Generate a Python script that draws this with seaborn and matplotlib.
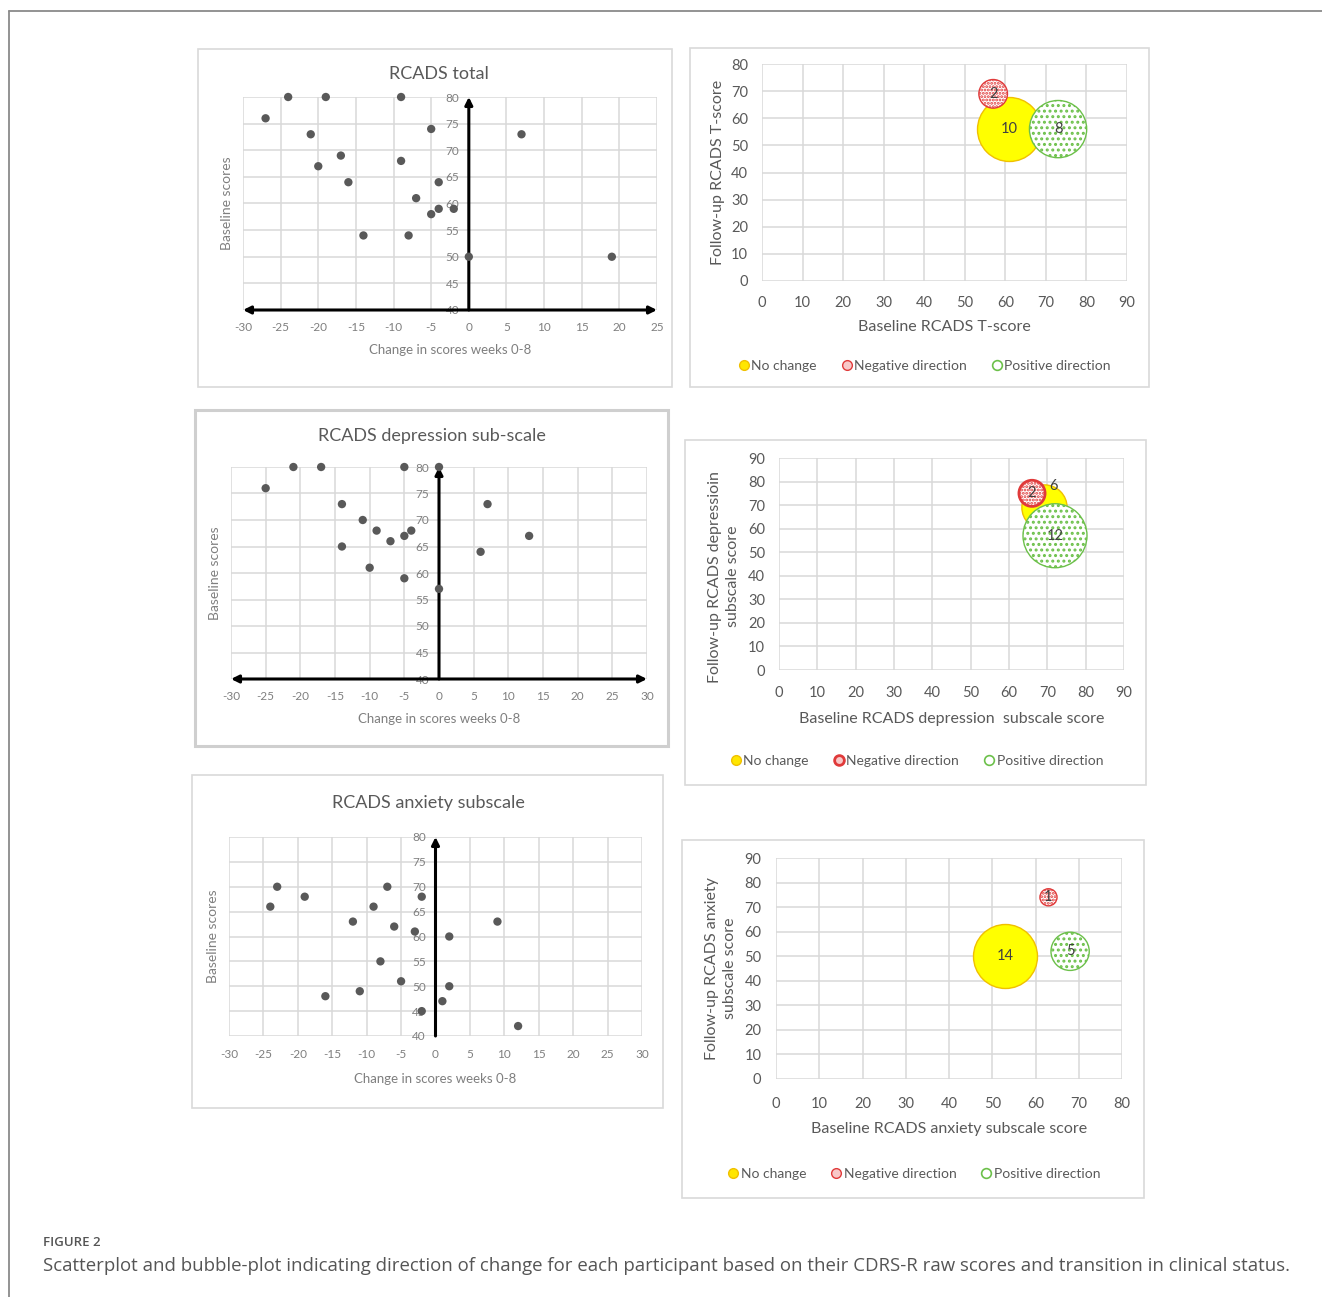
import numpy as np
import pandas as pd
import matplotlib.pyplot as plt
import seaborn as sns
from matplotlib.lines import Line2D
from matplotlib.patches import Rectangle

# change in scores (weeks 0-8) vs baseline, one dot per participant
total_change = [-27, -24, -19, -9, -21, -5, 7, -17, -20, -9, -16, -4, -7, -4, -2, -5, -14, -8, 0, 19]
total_baseline = [76, 80, 80, 80, 73, 74, 73, 69, 67, 68, 64, 64, 61, 59, 59, 58, 54, 54, 50, 50]

dep_change = [-25, -21, -17, -5, 0, -14, 7, -11, -9, -4, -5, -7, 13, -14, 6, -10, -5, 0]
dep_baseline = [76, 80, 80, 80, 80, 73, 73, 70, 68, 68, 67, 66, 67, 65, 64, 61, 59, 57]

anx_change = [-23, -24, -19, -7, -2, -9, -12, 9, -6, -3, 2, -8, -5, 2, -11, -16, 1, -2, 12]
anx_baseline = [70, 66, 68, 70, 68, 66, 63, 63, 62, 61, 60, 55, 51, 50, 49, 48, 47, 45, 42]

# bubble plots: baseline vs follow-up, bubble = number of participants
bubble_groups = ['No change', 'Negative direction', 'Positive direction']
total_bl = [61, 57, 73]
total_fu = [56, 69, 56]
total_n = [10, 2, 8]
dep_bl = [69, 66, 72]
dep_fu = [69, 75, 57]
dep_n = [6, 2, 12]
anx_bl = [53, 63, 68]
anx_fu = [50, 74, 52]
anx_n = [14, 1, 5]

sns.set_style('white')
plt.rcParams['font.family'] = ['Lato', 'DejaVu Sans']
plt.rcParams['axes.unicode_minus'] = False
plt.rcParams['hatch.linewidth'] = 1.4

W, H = 1322, 1297
GRID = '#D9D9D9'
TXT = '#595959'
TICK = '#7F7F7F'

fig = plt.figure(figsize=(W / 100, H / 100), dpi=100)


def px_axes(x0, y0, x1, y1):
    return fig.add_axes([x0 / W, 1 - y1 / H, (x1 - x0) / W, (y1 - y0) / H])


def box(x0, y0, x1, y1, lw=1.2, color=GRID):
    fig.add_artist(Rectangle((x0 / W, 1 - y1 / H), (x1 - x0) / W, (y1 - y0) / H,
                             transform=fig.transFigure, fill=False, ec=color, lw=lw))


def scatter_panel(ax, change, base, title, title_xy, xmax, horiz_arrow, xlab_y):
    df = pd.DataFrame({'change': change, 'baseline': base})
    sns.scatterplot(data=df, x='change', y='baseline', ax=ax, color='#595959', s=36,
                    edgecolor='none', clip_on=False, zorder=5)
    ax.set_xlim(-30, xmax)
    ax.set_ylim(40, 80)
    ax.set_xticks(range(-30, xmax + 1, 5))
    ax.set_yticks(range(40, 81, 5))
    ax.grid(True, color=GRID, lw=1.1)
    ax.set_axisbelow(True)
    for s in ax.spines.values():
        s.set_visible(False)
    ax.spines['left'].set_position(('data', 0))
    ax.tick_params(length=0, labelsize=8.5, labelcolor=TICK)
    ax.tick_params(axis='y', pad=7)
    ax.tick_params(axis='x', pad=9)
    ax.text(title_xy[0], title_xy[1], title, transform=ax.transAxes, ha='center', va='center',
            fontsize=13, color=TXT)
    ax.set_xlabel('Change in scores weeks 0-8', fontsize=9.5, color=TICK)
    ax.set_ylabel('Baseline scores', fontsize=10, color=TICK)
    ax.yaxis.set_label_coords(-0.024, 0.5)
    ax.xaxis.set_label_coords(0.5, xlab_y)
    ax.xaxis.label.set_va('center')
    ax.annotate('', xy=(0, 80), xytext=(0, 40),
                arrowprops=dict(arrowstyle='-|>', color='black', lw=2.2, mutation_scale=11,
                                shrinkA=0, shrinkB=0), annotation_clip=False, zorder=4)
    if horiz_arrow:
        ax.annotate('', xy=(xmax, 40), xytext=(-30, 40),
                    arrowprops=dict(arrowstyle='<|-|>', color='black', lw=2.2, mutation_scale=11,
                                    shrinkA=0, shrinkB=0), annotation_clip=False, zorder=4)


styles = {
    'No change': dict(fc='#FFFF00', ec='#F0C000', hatch=None),
    'Negative direction': dict(fc='white', ec='#E03A3A', hatch='.....'),
    'Positive direction': dict(fc='white', ec='#6CC04A', hatch='...'),
}


def bubble_panel(ax, bl, fu, n, xmax, ymax, ylab, xlab, ylab_xy, xlab_y, leg_xy,
                 red_lw=1.0, label_offsets=None, pads=(10, 11)):
    label_offsets = label_offsets or {}
    smax = 2123
    for i, grp in enumerate(bubble_groups):
        st = styles[grp]
        lw = red_lw if grp == 'Negative direction' else 1.0
        sns.scatterplot(x=[bl[i]], y=[fu[i]], ax=ax, s=n[i] / max(n) * smax,
                        color=st['fc'], edgecolor=st['ec'], linewidth=lw, hatch=st['hatch'],
                        zorder=3 + (2 - i if i else 0), clip_on=False, legend=False)
        dx, dy = label_offsets.get(grp, (0, 0))
        ax.text(bl[i] + dx, fu[i] + dy, str(n[i]), ha='center', va='center',
                fontsize=10.5, color='#404040', zorder=10)
    ax.set_xlim(0, xmax)
    ax.set_ylim(0, ymax)
    ax.set_xticks(range(0, xmax + 1, 10))
    ax.set_yticks(range(0, ymax + 1, 10))
    ax.grid(True, color=GRID, lw=1.1)
    ax.set_axisbelow(True)
    for s in ax.spines.values():
        s.set_visible(False)
    ax.tick_params(length=0, labelsize=10.5, labelcolor=TXT)
    ax.tick_params(axis='y', pad=pads[0])
    ax.tick_params(axis='x', pad=pads[1])
    ax.set_xlabel(xlab, fontsize=11.5, color=TXT)
    ax.set_ylabel(ylab, fontsize=11.5, color=TXT, linespacing=1.35)
    ax.xaxis.set_label_coords(0.5, xlab_y)
    ax.xaxis.label.set_va('center')
    ax.yaxis.set_label_coords(*ylab_xy)
    ax.yaxis.label.set_va('center')
    handles = [
        Line2D([], [], ls='', marker='o', ms=7, mfc='#FFE600', mec='#F0C000'),
        Line2D([], [], ls='', marker='o', ms=7, mfc='#F8C8C8', mec='#E03A3A', mew=red_lw),
        Line2D([], [], ls='', marker='o', ms=7, mfc='white', mec='#6CC04A', mew=1.2),
    ]
    ax.legend(handles, bubble_groups, loc='center', bbox_to_anchor=leg_xy, ncol=3,
              frameon=False, fontsize=10, labelcolor=TXT, handlelength=0.7,
              handletextpad=0.2, columnspacing=1.8)


# panel frames
box(198, 49, 672, 387)
box(690, 48, 1149, 387)
box(195, 410, 668, 746, lw=2.2, color='#CFCFCF')
box(685, 440, 1146, 785)
box(192, 775, 663, 1108)
box(682, 840, 1144, 1198)

ax1 = px_axes(243, 97, 657, 310)
scatter_panel(ax1, total_change, total_baseline, 'RCADS total', (0.473, 1.108), 25, True, -0.188)

ax3 = px_axes(231, 467, 647, 679)
scatter_panel(ax3, dep_change, dep_baseline, 'RCADS depression sub-scale', (0.483, 1.146), 30, True, -0.189)

ax5 = px_axes(229, 837, 642, 1036)
scatter_panel(ax5, anx_change, anx_baseline, 'RCADS anxiety subscale', (0.482, 1.171), 30, False, -0.216)

ax2 = px_axes(762, 64, 1127, 281)
bubble_panel(ax2, total_bl, total_fu, total_n, 90, 80,
             'Follow-up RCADS T-score', 'Baseline RCADS T-score',
             (-0.12, 0.5), -0.21, (0.446, -0.39), pads=(10, 11))

ax4 = px_axes(779, 458, 1124, 670)
bubble_panel(ax4, dep_bl, dep_fu, dep_n, 90, 90,
             'Follow-up RCADS depressioin\nsubscale score', 'Baseline RCADS depression  subscale score',
             (-0.16, 0.44), -0.231, (0.40, -0.43), red_lw=2.0,
             label_offsets={'No change': (2.5, 9)}, pads=(10, 11.5))

ax6 = px_axes(776, 858, 1122, 1079)
bubble_panel(ax6, anx_bl, anx_fu, anx_n, 80, 90,
             'Follow-up RCADS anxiety\nsubscale score', 'Baseline RCADS anxiety subscale score',
             (-0.159, 0.5), -0.226, (0.40, -0.43), pads=(10.5, 13))

# outer frame and caption
fig.add_artist(Line2D([9 / W, 1], [1 - 11 / H, 1 - 11 / H], transform=fig.transFigure,
                      color='#8A8A8A', lw=1.3))
fig.add_artist(Line2D([9 / W, 9 / W], [0, 1 - 11 / H], transform=fig.transFigure,
                      color='#8A8A8A', lw=1.3))
fig.text(43 / W, 1 - 1243 / H, 'FIGURE 2', fontsize=9.5, color='#555555', family='Open Sans',
         weight='semibold', va='center', ha='left')
fig.text(43 / W, 1 - 1266 / H,
         'Scatterplot and bubble-plot indicating direction of change for each participant based on '
         'their CDRS-R raw scores and transition in clinical status.',
         fontsize=13.4, color='#555555', family='Open Sans', va='center', ha='left')

fig.savefig('out.png', dpi=100)
